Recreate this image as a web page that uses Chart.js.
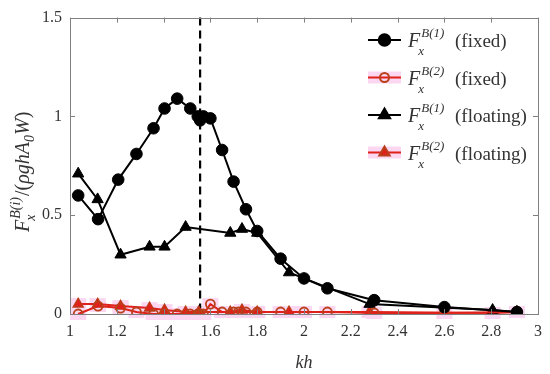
<!DOCTYPE html>
<html>
<head>
<meta charset="utf-8">
<script src="https://cdn.jsdelivr.net/npm/chart.js@4/dist/chart.umd.min.js"></script>
<style>
html,body{margin:0;padding:0;background:#fff;}
#wrap{width:550px;height:374px;position:relative;}
</style>
</head>
<body>
<div id="wrap"><canvas id="c" width="550" height="374"></canvas></div>
<script>
// ---- data ----
const fixedB1_kh  = [1.035,1.12,1.206,1.284,1.357,1.404,1.458,1.514,1.546,1.556,1.570,1.600,1.650,1.699,1.752,1.800,1.900,2.000,2.100,2.300,2.600,2.910];
const fixedB1_F   = [0.60,0.48,0.68,0.81,0.94,1.04,1.09,1.04,1.00,0.98,1.00,0.99,0.83,0.67,0.53,0.42,0.28,0.18,0.13,0.07,0.035,0.01];
const fixedB2_kh  = [1.035,1.12,1.216,1.284,1.357,1.404,1.458,1.514,1.546,1.556,1.570,1.600,1.650,1.699,1.720,1.752,1.800,1.900,2.000,2.100,2.300,2.600,2.910];
const fixedB2_F   = [0.00,0.04,0.03,0.01,0.00,0.00,0.00,0.00,0.00,0.00,0.00,0.05,0.01,0.01,0.01,0.01,0.01,0.01,0.01,0.01,0.005,0.005,0.01];
const floatB1_kh  = [1.035,1.118,1.216,1.340,1.404,1.494,1.685,1.735,1.800,1.936,2.280,2.806,2.910];
const floatB1_F   = [0.71,0.58,0.30,0.34,0.34,0.44,0.41,0.43,0.41,0.21,0.05,0.02,0.01];
const floatB2_kh  = [1.035,1.118,1.216,1.340,1.404,1.494,1.550,1.685,1.735,1.800,1.936,2.280,2.806,2.910];
const floatB2_F   = [0.05,0.05,0.04,0.03,0.02,0.01,0.01,0.01,0.02,0.01,0.01,0.01,0.005,0.01];
const xTicks = [1,1.2,1.4,1.6,1.8,2,2.2,2.4,2.6,2.8,3];
const yTicks = [0,0.5,1,1.5];
const dashedLineKh = 1.556;

const pts = (xs, ys) => xs.map((x,i)=>({x:x,y:ys[i]}));

const SERIF = '"Liberation Serif","Times New Roman",serif';
const AXIS = '#808080';
const TXT = '#333333';
const RED = '#e0201a';
const DARKRED = '#b8401a';
const HALO = '#fbd7f1';

const datasets = [
  {label:'B1 fixed', data:pts(fixedB1_kh,fixedB1_F), borderColor:'#000', backgroundColor:'#000', pointStyle:'circle', pointRadius:5.8, borderWidth:2, pointBorderWidth:1},
  {label:'B2 fixed', data:pts(fixedB2_kh,fixedB2_F), borderColor:RED, backgroundColor:'rgba(255,255,255,0)', pointBorderColor:DARKRED, pointStyle:'circle', pointRadius:4.5, borderWidth:2, pointBorderWidth:1.8, halo:true},
  {label:'B1 floating', data:pts(floatB1_kh,floatB1_F), borderColor:'#000', backgroundColor:'#000', pointStyle:'triangle', pointRadius:6.5, borderWidth:2, pointBorderWidth:1},
  {label:'B2 floating', data:pts(floatB2_kh,floatB2_F), borderColor:RED, backgroundColor:RED, pointBorderColor:DARKRED, pointStyle:'triangle', pointRadius:6, borderWidth:2, pointBorderWidth:1.2, halo:true},
];
datasets.forEach(d=>{d.showLine=true; d.fill=false; d.tension=0; d.pointHoverRadius=d.pointRadius;});

const legendEntries = [
  {ds:0, sup:'B(1)', txt:'(fixed)'},
  {ds:1, sup:'B(2)', txt:'(fixed)'},
  {ds:2, sup:'B(1)', txt:'(floating)'},
  {ds:3, sup:'B(2)', txt:'(floating)'},
];

function drawMarker(ctx, d, x, y){
  Chart.helpers.drawPoint(ctx, {pointStyle:d.pointStyle, radius:d.pointRadius, borderWidth:d.pointBorderWidth||1, rotation:0}, x, y);
}

const decor = {
  id:'decor',
  beforeDatasetsDraw(chart){
    const {ctx, chartArea:a, scales:{x,y}} = chart;
    ctx.save();
    // pink halos behind the red markers (as in the reference image)
    ctx.fillStyle = HALO;
    chart.data.datasets.forEach((d,i)=>{
      if(!d.halo) return;
      chart.getDatasetMeta(i).data.forEach(el=>{ ctx.fillRect(el.x-8, el.y-6, 16, 12); });
    });
    // dashed vertical line
    const px = x.getPixelForValue(dashedLineKh);
    ctx.strokeStyle='#000'; ctx.lineWidth=2.2; ctx.setLineDash([8,5]);
    ctx.beginPath(); ctx.moveTo(px,a.top); ctx.lineTo(px,a.bottom); ctx.stroke();
    ctx.restore();
  },
  afterDraw(chart){
    const {ctx, chartArea:a, scales:{x,y}} = chart;
    ctx.save();
    // box
    ctx.strokeStyle=AXIS; ctx.lineWidth=1;
    ctx.strokeRect(Math.round(a.left)+0.5, Math.round(a.top)+0.5, Math.round(a.right-a.left), Math.round(a.bottom-a.top));
    // inward ticks
    ctx.beginPath();
    xTicks.forEach(v=>{const p=Math.round(x.getPixelForValue(v))+0.5; ctx.moveTo(p,a.bottom); ctx.lineTo(p,a.bottom-5); ctx.moveTo(p,a.top); ctx.lineTo(p,a.top+5);});
    yTicks.forEach(v=>{const p=Math.round(y.getPixelForValue(v))+0.5; ctx.moveTo(a.left,p); ctx.lineTo(a.left+5,p); ctx.moveTo(a.right,p); ctx.lineTo(a.right-5,p);});
    ctx.stroke();

    // y-axis label
    ctx.save();
    ctx.translate(29, 168);
    ctx.rotate(-Math.PI/2);
    ctx.fillStyle=TXT; ctx.textBaseline='alphabetic';
    let cx = -64;
    ctx.font='italic 20px '+SERIF; ctx.fillText('F', cx, 0);
    let fw = ctx.measureText('F').width;
    ctx.font='italic 14px '+SERIF; ctx.fillText('B(i)', cx+fw+1, -9);
    const supW = ctx.measureText('B(i)').width;
    ctx.fillText('x', cx+fw-1, 6);
    cx = cx+fw+1+supW+1;
    ctx.font='20px '+SERIF; ctx.fillText('/(', cx, 0); cx += ctx.measureText('/(').width;
    ctx.font='italic 20px '+SERIF; ctx.fillText('ρghA', cx, 0); cx += ctx.measureText('ρghA').width;
    ctx.font='italic 14px '+SERIF; ctx.fillText('0', cx, 5); cx += ctx.measureText('0').width;
    ctx.font='italic 20px '+SERIF; ctx.fillText('W', cx, 0); cx += ctx.measureText('W').width;
    ctx.font='20px '+SERIF; ctx.fillText(')', cx, 0);
    ctx.restore();

    // legend
    const ly0 = 40, ldy = 37.5;
    legendEntries.forEach((e,i)=>{
      const d = chart.data.datasets[e.ds];
      const yy = ly0 + i*ldy;
      if(d.halo){ ctx.fillStyle=HALO; ctx.fillRect(368, yy-6, 33, 12); }
      ctx.strokeStyle=d.borderColor; ctx.lineWidth=2; ctx.setLineDash([]);
      ctx.beginPath(); ctx.moveTo(368,yy); ctx.lineTo(401,yy); ctx.stroke();
      ctx.fillStyle = d.backgroundColor; ctx.strokeStyle = d.pointBorderColor||d.borderColor;
      drawMarker(ctx, d, 384.5, yy);
      ctx.fillStyle=TXT;
      ctx.font='italic 20px '+SERIF; ctx.fillText('F', 408, yy+7);
      const w = ctx.measureText('F').width;
      ctx.font='italic 13px '+SERIF; ctx.fillText(e.sup, 408+w+1, yy-3);
      ctx.fillText('x', 408+w-2, yy+15);
      ctx.font='19px '+SERIF; ctx.fillText(e.txt, 455, yy+7);
    });
    ctx.restore();
  }
};

new Chart(document.getElementById('c'), {
  type:'scatter',
  data:{datasets:datasets},
  options:{
    responsive:false, animation:false,
    devicePixelRatio:1,
    layout:{padding:{left:0,right:9,top:10,bottom:0}},
    plugins:{legend:{display:false}, tooltip:{enabled:false}},
    scales:{
      x:{
        type:'linear', min:1, max:3,
        afterBuildTicks(s){ s.ticks = xTicks.map(v=>({value:v})); },
        afterFit(s){ s.height = 60; },
        grid:{display:false, drawTicks:false},
        border:{display:false},
        ticks:{color:TXT, font:{family:SERIF, size:16}, padding:8, maxRotation:0, autoSkip:false,
          callback:v=>String(Math.round(v*10)/10)},
        title:{display:true, text:'kh', color:TXT, font:{family:SERIF, size:18, style:'italic'}, padding:{top:2,bottom:0}}
      },
      y:{
        type:'linear', min:0, max:1.5,
        afterBuildTicks(s){ s.ticks = yTicks.map(v=>({value:v})); },
        afterFit(s){ s.width = 70; },
        grid:{display:false, drawTicks:false},
        border:{display:false},
        ticks:{color:TXT, font:{family:SERIF, size:16}, padding:8,
          callback:v=>String(v)}
      }
    }
  },
  plugins:[decor]
});
</script>
</body>
</html>
